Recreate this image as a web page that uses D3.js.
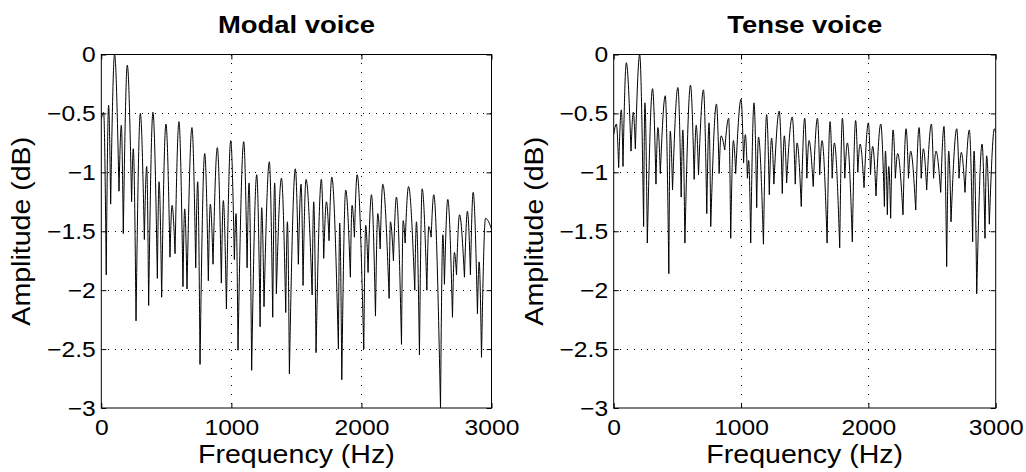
<!DOCTYPE html>
<html>
<head>
<meta charset="utf-8">
<script src="https://cdn.jsdelivr.net/npm/d3@7"></script>
<style>
  body { margin: 0; background: #fff; }
  svg { display: block; font-family: "Liberation Sans", Arial, sans-serif; }
</style>
</head>
<body>
<svg width="1026" height="472"></svg>
<script>
// Spectrum extrema: alternating peaks and nulls.
const modalHz = [0, 18, 38, 56, 72, 102, 136, 154, 169, 200, 233, 246, 267, 300, 331, 349, 364,
  397, 431, 444, 464, 497, 528, 544, 567, 597, 628, 641, 659, 697, 726, 741, 759, 795, 823, 838,
  859, 892, 923, 938, 962, 995, 1023, 1036, 1051, 1095, 1121, 1136, 1156, 1195, 1221, 1233, 1251,
  1292, 1318, 1333, 1346, 1385, 1418, 1431, 1446, 1492, 1515, 1536, 1551, 1574, 1621, 1633, 1651,
  1692, 1710, 1731, 1751, 1772, 1823, 1833, 1849, 1879, 1915, 1928, 1946, 1967, 2018, 2033, 2051,
  2077, 2108, 2126, 2144, 2164, 2213, 2223, 2246, 2269, 2308, 2321, 2336, 2362, 2410, 2423, 2446,
  2467, 2503, 2518, 2536, 2556, 2608, 2626, 2638, 2664, 2700, 2715, 2731, 2754, 2792, 2815, 2838,
  2859, 2892, 2905, 2923, 2954, 3000];
const modalDb = [-0.55, -0.49, -1.87, -0.43, -1.27, 0, -1.16, -0.60, -1.52, -0.09, -1.25, -0.80,
  -2.26, -0.50, -1.57, -0.95, -2.13, -0.49, -1.90, -1.08, -2.06, -0.59, -1.72, -1.28, -1.69, -0.57,
  -1.97, -1.31, -1.99, -0.62, -1.81, -1.08, -2.63, -0.84, -1.92, -1.27, -1.78, -0.79, -1.94, -1.24,
  -2.16, -0.73, -1.74, -1.35, -2.51, -0.74, -1.81, -1.09, -2.68, -1.02, -2.31, -1.30, -2.14, -0.91,
  -2.23, -1.09, -2.03, -1.05, -2.19, -1.42, -2.71, -0.97, -1.78, -1.10, -1.96, -1.06, -2.04, -1.25,
  -2.53, -1.06, -1.73, -1.25, -1.58, -1.04, -2.50, -1.43, -2.76, -1.15, -1.89, -1.28, -1.55, -1.02,
  -2.50, -1.45, -1.85, -1.19, -2.22, -1.35, -1.65, -1.10, -2.07, -1.42, -1.75, -1.21, -2.46, -1.41,
  -1.60, -1.12, -2.00, -1.42, -2.55, -1.14, -2.00, -1.46, -1.55, -1.19, -3.00, -1.53, -1.95, -1.23,
  -2.23, -1.68, -1.87, -1.36, -1.89, -1.33, -1.87, -1.17, -2.20, -1.76, -2.57, -1.39, -1.48];

const tenseHz = [0, 21, 39, 60, 73, 99, 136, 154, 170, 204, 235, 245, 264, 305, 332, 347, 366,
  405, 433, 444, 462, 504, 530, 543, 559, 603, 632, 648, 666, 705, 731, 749, 762, 807, 828, 843,
  872, 903, 919, 940, 958, 1000, 1020, 1034, 1050, 1060, 1076, 1102, 1123, 1137, 1176, 1201, 1222,
  1240, 1258, 1300, 1324, 1340, 1358, 1402, 1426, 1440, 1473, 1500, 1517, 1534, 1567, 1600, 1618,
  1636, 1676, 1699, 1716, 1733, 1775, 1796, 1815, 1835, 1874, 1900, 1917, 1935, 1966, 2000, 2017,
  2034, 2060, 2097, 2126, 2134, 2149, 2160, 2175, 2194, 2212, 2230, 2272, 2296, 2315, 2332, 2372,
  2398, 2415, 2432, 2458, 2495, 2512, 2531, 2568, 2594, 2615, 2631, 2649, 2694, 2712, 2730, 2759,
  2793, 2819, 2830, 2851, 2893, 2916, 2929, 2950, 2990, 3000];
const tenseDb = [-0.68, -0.59, -0.96, -0.47, -0.95, -0.07, -0.82, -0.49, -0.80, 0, -1.46, -0.41,
  -1.60, -0.29, -1.10, -0.62, -1.01, -0.35, -1.86, -0.65, -1.15, -0.28, -1.21, -0.64, -1.60, -0.26,
  -1.06, -0.60, -1.02, -0.30, -1.35, -0.58, -1.46, -0.42, -1.01, -0.69, -0.81, -0.54, -1.56, -0.73,
  -1.01, -0.38, -0.92, -0.68, -1.05, -0.90, -1.60, -0.41, -1.30, -0.70, -1.61, -0.51, -1.19, -0.71,
  -1.10, -0.48, -1.18, -0.69, -1.09, -0.53, -1.10, -0.75, -1.29, -0.54, -1.05, -0.73, -1.12, -0.54,
  -1.02, -0.73, -1.60, -0.57, -1.05, -0.75, -1.64, -0.54, -1.05, -0.75, -1.59, -0.56, -1.00, -0.76,
  -1.13, -0.58, -1.02, -0.78, -1.20, -0.59, -1.29, -0.82, -1.36, -0.95, -1.39, -0.64, -1.05, -0.84,
  -1.36, -0.63, -1.05, -0.82, -1.32, -0.62, -1.05, -0.80, -1.15, -0.59, -1.05, -0.82, -1.17, -0.61,
  -1.80, -0.82, -1.42, -0.63, -1.05, -0.83, -1.17, -0.64, -1.59, -0.82, -2.03, -0.76, -1.56, -0.86,
  -1.44, -0.63, -0.66];

const xTicks = [0, 1000, 2000, 3000];
const yTicks = [0, -0.5, -1, -1.5, -2, -2.5, -3];

const panels = [
  { title: 'Modal voice', hz: modalHz, db: modalDb, left: 101.3, right: 491.5 },
  { title: 'Tense voice', hz: tenseHz, db: tenseDb, left: 613.7, right: 995.7 }
];
const plotTop = 54.5;
const plotBottom = 408;
const stretch = 'scale(1.12,1)'; // reference glyphs are a bit wider than Liberation Sans

const svg = d3.select('svg');
const fmt = d3.format('~g');

panels.forEach((p, k) => {
  const x = d3.scaleLinear().domain([0, 3000]).range([p.left, p.right]);
  const y = d3.scaleLinear().domain([-3, 0]).range([plotBottom, plotTop]);
  const g = svg.append('g');

  // dotted grid
  g.selectAll('.gx')
    .data(xTicks.slice(1, -1))
    .enter()
    .append('line')
    .attr('x1', d => x(d)).attr('x2', d => x(d))
    .attr('y1', plotTop).attr('y2', plotBottom)
    .attr('stroke', '#000').attr('stroke-width', 1)
    .attr('stroke-dasharray', '1,7.7')
    .attr('shape-rendering', 'crispEdges');
  g.selectAll('.gy')
    .data(yTicks.slice(1, -1))
    .enter()
    .append('line')
    .attr('x1', p.left).attr('x2', p.right)
    .attr('y1', d => y(d)).attr('y2', d => y(d))
    .attr('stroke', '#000').attr('stroke-width', 1)
    .attr('stroke-dasharray', '1,5.7')
    .attr('shape-rendering', 'crispEdges');

  // spectrum: each lobe runs null -> peak -> null, so nulls stay sharp
  const pts = p.hz.map((h, i) => [h, p.db[i]]);
  const line = d3.line().x(d => x(d[0])).y(d => y(d[1])).curve(d3.curveMonotoneX);
  let path = '';
  pts.forEach((d, i) => {
    const prev = pts[i - 1], next = pts[i + 1];
    const isPeak = (!prev || d[1] >= prev[1]) && (!next || d[1] >= next[1]);
    if (!isPeak) return;
    const lobe = [prev, d, next].filter(Boolean);
    path += line(lobe);
  });

  svg.append('clipPath').attr('id', 'clip' + k)
    .append('rect')
    .attr('x', p.left).attr('y', plotTop)
    .attr('width', p.right - p.left).attr('height', plotBottom - plotTop);

  g.append('path')
    .attr('d', path)
    .attr('fill', 'none')
    .attr('stroke', '#000')
    .attr('stroke-width', 1)
    .attr('clip-path', `url(#clip${k})`);

  // axes, ticks pointing inward
  const tickFont = sel => sel.selectAll('text')
    .attr('font-size', 22).attr('fill', '#000').attr('transform', stretch);
  const clean = sel => {
    sel.select('.domain').remove();
    sel.selectAll('line').attr('stroke', '#000');
  };
  g.append('g').attr('transform', `translate(0,${plotBottom})`)
    .call(d3.axisBottom(x).tickValues(xTicks).tickSize(-5).tickPadding(11).tickFormat(fmt))
    .call(clean).call(tickFont)
    .attr('font-family', null);
  g.append('g').attr('transform', `translate(0,${plotTop})`)
    .call(d3.axisTop(x).tickValues(xTicks).tickSize(-5).tickFormat(''))
    .call(clean);
  g.append('g').attr('transform', `translate(${p.left},0)`)
    .call(d3.axisLeft(y).tickValues(yTicks).tickSize(-5).tickPadding(5).tickFormat(fmt))
    .call(clean).call(tickFont)
    .attr('font-family', null);
  g.append('g').attr('transform', `translate(${p.right},0)`)
    .call(d3.axisRight(y).tickValues(yTicks).tickSize(-5).tickFormat(''))
    .call(clean);

  g.append('rect')
    .attr('x', p.left).attr('y', plotTop)
    .attr('width', p.right - p.left).attr('height', plotBottom - plotTop)
    .attr('fill', 'none').attr('stroke', '#000').attr('stroke-width', 1);

  const cx = (p.left + p.right) / 2;
  g.append('text')
    .attr('transform', `translate(${cx},33) ${stretch}`)
    .attr('text-anchor', 'middle')
    .attr('font-size', 24.5).attr('font-weight', 'bold')
    .text(p.title);
  g.append('text')
    .attr('transform', `translate(${cx},463) ${stretch}`)
    .attr('text-anchor', 'middle')
    .attr('font-size', 25.5)
    .text('Frequency (Hz)');
  g.append('text')
    .attr('transform', `translate(${p.left - 71},${(plotTop + plotBottom) / 2}) rotate(-90) ${stretch}`)
    .attr('text-anchor', 'middle')
    .attr('font-size', 25.5)
    .text('Amplitude (dB)');
});
</script>
</body>
</html>
